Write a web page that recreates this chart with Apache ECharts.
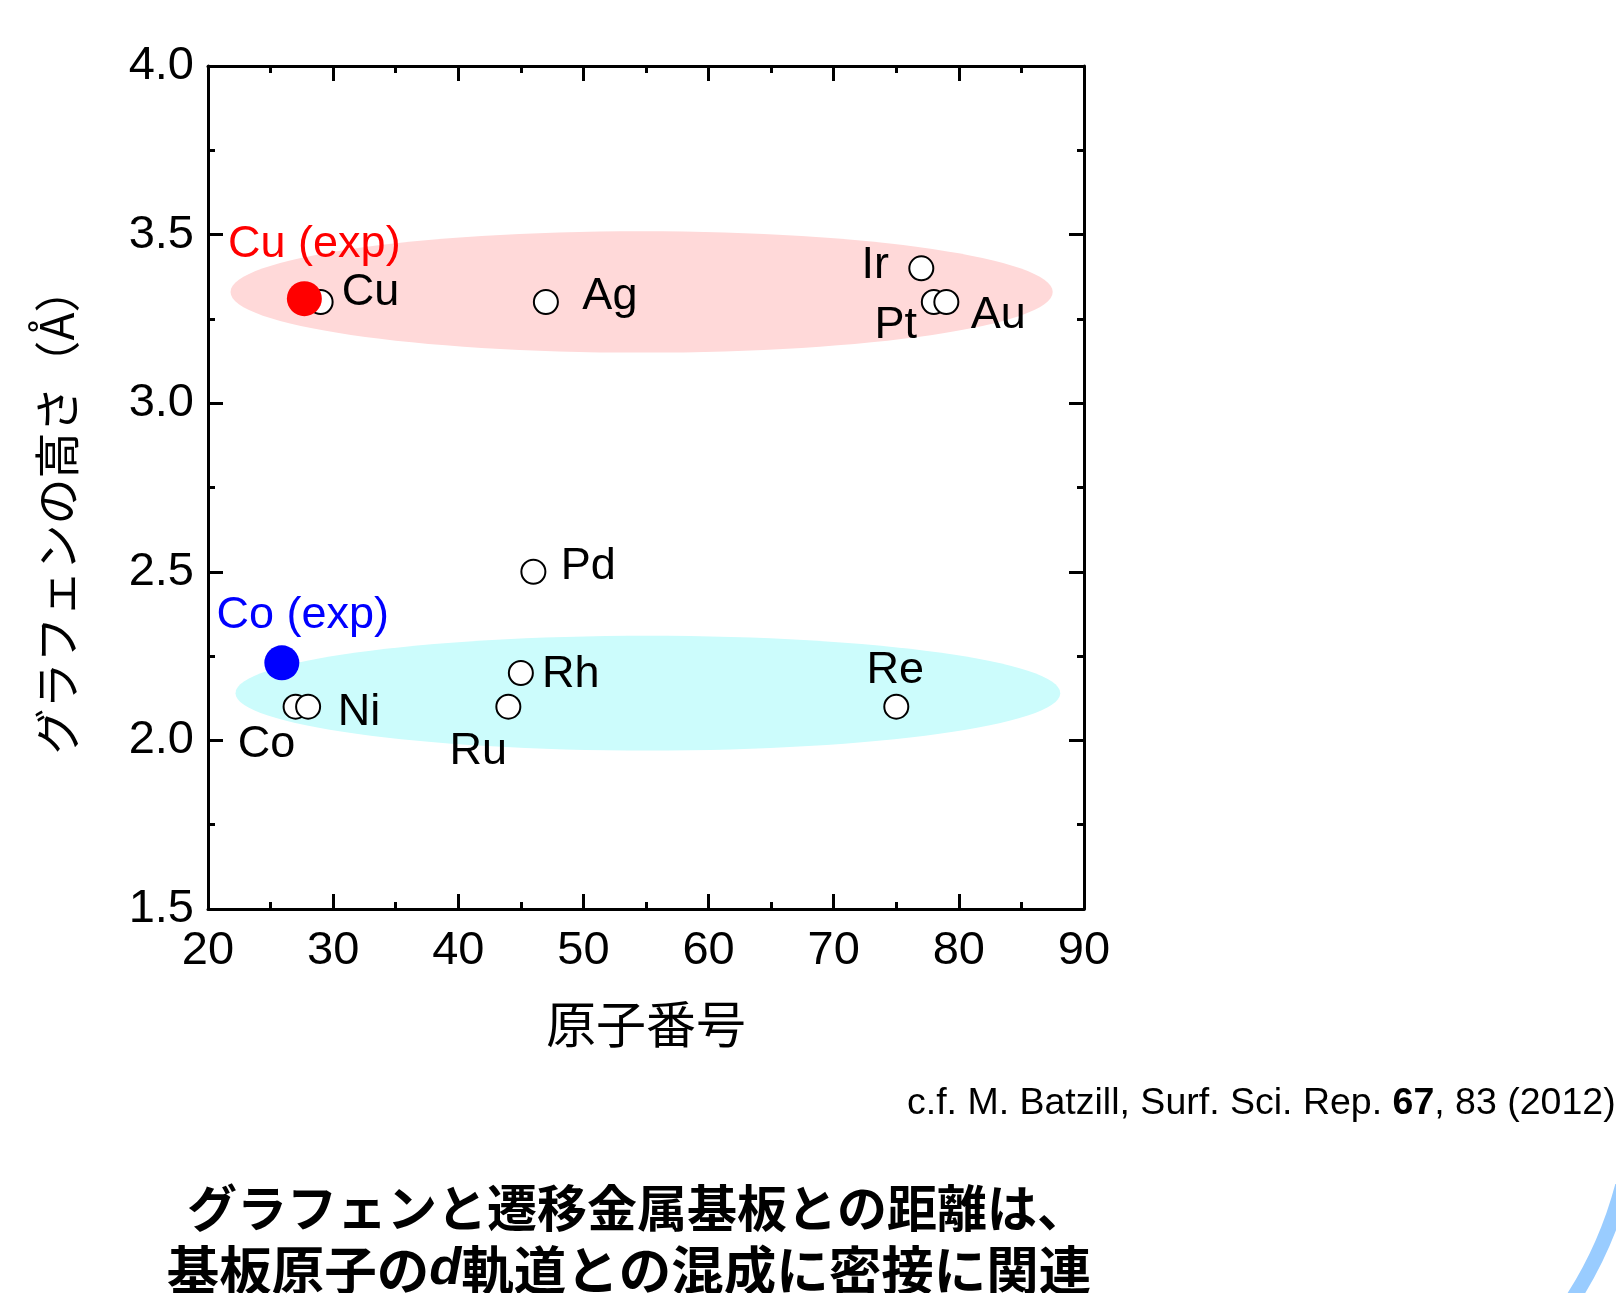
<!DOCTYPE html>
<html>
<head>
<meta charset="utf-8">
<script src="https://cdn.jsdelivr.net/npm/echarts@6/dist/echarts.min.js"></script>
<style>
  html, body { margin: 0; padding: 0; background: #fff; }
  #chart { width: 1616px; height: 1293px; }
</style>
</head>
<body>
<div id="chart"></div>
<script>
// 基板元素（理論値）
var elements = ['Co', 'Ni', 'Cu', 'Ru', 'Rh', 'Pd', 'Ag', 'Re', 'Ir', 'Pt', 'Au'];
var atomicNumber = [27, 28, 29, 44, 45, 46, 47, 75, 77, 78, 79];
var heightCalc = [2.1, 2.1, 3.3, 2.1, 2.2, 2.5, 3.3, 2.1, 3.4, 3.3, 3.3];

// 実験値
var expNames = ['Cu (exp)', 'Co (exp)'];
var expX = [27.7, 25.9];
var expY = [3.31, 2.23];

// 背景の楕円 [xmin, xmax, ymin, ymax]
var physBand = [21.8, 87.5, 3.15, 3.51];
var chemBand = [22.2, 88.1, 1.97, 2.31];

var xTicks = [20, 30, 40, 50, 60, 70, 80, 90];
var yTicks = ['1.5', '2.0', '2.5', '3.0', '3.5', '4.0'];

// ラベル位置（点の中心からのずれ, px）
var labelOffset = {
  'Co': [-29, 38], 'Ni': [51, 6], 'Cu': [50, -9], 'Ru': [-30, 45], 'Rh': [50, 2],
  'Pd': [55, -5], 'Ag': [64, -5], 'Re': [-1, -36], 'Ir': [-46, -3], 'Pt': [-38, 24],
  'Au': [52, 14], 'Cu (exp)': [10, -54], 'Co (exp)': [21, -47]
};

var chart = echarts.init(document.getElementById('chart'));

var openData = elements.map(function (n, i) {
  return {
    name: n, value: [atomicNumber[i], heightCalc[i]],
    label: { offset: labelOffset[n] }
  };
});
var expColors = ['#ff0000', '#0000ff'];
var expData = expNames.map(function (n, i) {
  return {
    name: n, value: [expX[i], expY[i]],
    itemStyle: { color: expColors[i], opacity: 1 },
    label: { offset: labelOffset[n], color: expColors[i] }
  };
});
var bandColors = ['#ffd9d9', '#ccfcfc'];

function axisCommon() {
  return {
    axisLine: { show: true, onZero: false, lineStyle: { color: '#000', width: 3 } },
    axisTick: { show: true, inside: true, length: 15, lineStyle: { color: '#000', width: 3 } },
    minorTick: { show: true, splitNumber: 2, length: 7, lineStyle: { color: '#000', width: 3 } },
    splitLine: { show: false }
  };
}

var xBottom = Object.assign(axisCommon(), {
  type: 'value', min: xTicks[0], max: xTicks[xTicks.length - 1], interval: 10, position: 'bottom',
  axisLabel: { fontSize: 47, color: '#000', fontFamily: 'Liberation Sans', margin: 19 },
  name: '原子番号', nameLocation: 'middle', nameGap: 90,
  nameTextStyle: { fontSize: 50, color: '#000', fontFamily: 'Noto Sans CJK JP' }
});
var xTop = Object.assign(axisCommon(), {
  type: 'value', min: 20, max: 90, interval: 10, position: 'top', axisLabel: { show: false }
});
var yLeft = Object.assign(axisCommon(), {
  type: 'value', min: 1.5, max: 4.0, interval: 0.5, position: 'left',
  axisLabel: {
    fontSize: 47, color: '#000', fontFamily: 'Liberation Sans', margin: 14,
    formatter: function (v) { return yTicks[Math.round((v - 1.5) / 0.5)]; }
  },
  name: 'グラフェンの高さ（Å）', nameLocation: 'middle', nameGap: 128, nameRotate: 90,
  nameTextStyle: { fontSize: 46, color: '#000', fontFamily: 'Noto Sans CJK JP', padding: [0, 46, 0, 0] }
});
var yRight = Object.assign(axisCommon(), {
  type: 'value', min: 1.5, max: 4.0, interval: 0.5, position: 'right', axisLabel: { show: false }
});

var option = {
  backgroundColor: '#fff',
  animation: false,
  grid: { left: 208, right: 532, top: 66, bottom: 384 },
  xAxis: [xBottom, xTop],
  yAxis: [yLeft, yRight],
  graphic: [
    {
      type: 'text', left: 907, top: 1085,
      style: {
        text: 'c.f. M. Batzill, Surf. Sci. Rep. {b|67}, 83 (2012).',
        font: '37.5px "Liberation Sans"', fill: '#000',
        rich: { b: { fontWeight: 'bold', fontSize: 37.5, fontFamily: 'Liberation Sans' } }
      }
    },
    {
      type: 'text', x: 637, y: 1208,
      style: {
        text: 'グラフェンと遷移金属基板との距離は、',
        font: 'bold 50px "Noto Sans CJK JP"', fill: '#000', align: 'center', verticalAlign: 'middle'
      }
    },
    {
      type: 'text', x: 629, y: 1270,
      style: {
        text: '基板原子の{i|d}軌道との混成に密接に関連',
        font: 'bold 52.5px "Noto Sans CJK JP"', fill: '#000', align: 'center', verticalAlign: 'middle',
        rich: { i: { fontStyle: 'italic', fontWeight: 'bold', fontSize: 52.5, fontFamily: 'Liberation Sans' } }
      }
    },
    {
      // 右下の飾りの円弧
      type: 'arc', shape: { cx: 1236, cy: 1083, r: 400, startAngle: 0.26, endAngle: 0.62, clockwise: true },
      style: { fill: null, stroke: '#99ccff', lineWidth: 15 }
    }
  ],
  series: [
    {
      type: 'custom',
      z: 1,
      data: [physBand, chemBand],
      encode: { x: [0, 1], y: [2, 3] },
      renderItem: function (params, api) {
        var p0 = api.coord([api.value(0), api.value(3)]);
        var p1 = api.coord([api.value(1), api.value(2)]);
        return {
          type: 'ellipse',
          shape: {
            cx: (p0[0] + p1[0]) / 2, cy: (p0[1] + p1[1]) / 2,
            rx: (p1[0] - p0[0]) / 2, ry: (p1[1] - p0[1]) / 2
          },
          style: { fill: bandColors[params.dataIndex] }
        };
      }
    },
    {
      type: 'scatter',
      z: 3,
      symbol: 'circle',
      symbolSize: 24,
      itemStyle: { color: '#fff', borderColor: '#000', borderWidth: 2, opacity: 1 },
      label: {
        show: true, position: 'inside', formatter: '{b}',
        fontSize: 45, color: '#000', fontFamily: 'Liberation Sans', align: 'center', verticalAlign: 'middle'
      },
      data: openData
    },
    {
      type: 'scatter',
      z: 4,
      symbol: 'circle',
      symbolSize: 35,
      itemStyle: { opacity: 1 },
      label: {
        show: true, position: 'inside', formatter: '{b}',
        fontSize: 45, fontFamily: 'Liberation Sans', align: 'center', verticalAlign: 'middle'
      },
      data: expData
    }
  ]
};
chart.setOption(option);
</script>
</body>
</html>
